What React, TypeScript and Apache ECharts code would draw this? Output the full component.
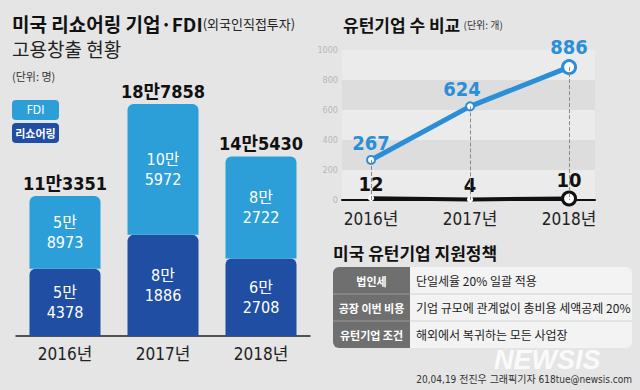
import React, { useEffect, useRef } from "react";
import * as echarts from "echarts";

// ---- data ----
const categories = ["2016년", "2017년", "2018년"];
const reshoring = [54378, 81886, 62708];
const fdi = [58973, 105972, 82722];
const years = [2016, 2017, 2018];
const usCount = [267, 624, 886];
const krCount = [12, 4, 10];
const policyHeads = ["법인세", "공장 이번 비용", "유턴기업 조건"];
const policyTexts = [
  "단일세율 20% 일괄 적용",
  "기업 규모에 관계없이 총비용 세액공제 20%",
  "해외에서 복귀하는 모든 사업장",
];

const NARROW = "'DejaVu Sans Condensed', 'Noto Sans CJK KR', sans-serif";
const KR = "'Noto Sans CJK KR', sans-serif";
const LIGHT = "#2c9fd8";
const DARK = "#1f4ea2";
const USBLUE = "#2a8fd8";

const man = (n: number) => `${Math.floor(n / 10000)}만${String(n % 10000).padStart(4, "0")}`;
const manLines = (n: number) => `${Math.floor(n / 10000)}만\n${String(n % 10000).padStart(4, "0")}`;

export default function App() {
  const ref = useRef<HTMLDivElement>(null);
  useEffect(() => {
    if (!ref.current) return;
    const chart = echarts.init(ref.current, undefined, { renderer: "svg" });
    const totals = reshoring.map((v, i) => v + fdi[i]);

    const tableTop = 267;
    const rowH = 27;
    const tableGraphics: any[] = [
      { type: "rect", shape: { x: 333, y: tableTop, width: 77, height: rowH * 3, r: [6, 0, 0, 6] }, style: { fill: "#6f6f6f" } },
      { type: "rect", shape: { x: 410, y: tableTop, width: 222, height: rowH * 3, r: [0, 6, 6, 0] }, style: { fill: "#f3f3f3" } },
    ];
    [1, 2].forEach((k) => {
      tableGraphics.push({ type: "line", shape: { x1: 333, y1: tableTop + rowH * k, x2: 410, y2: tableTop + rowH * k }, style: { stroke: "#9a9a9a", lineWidth: 1 } });
      tableGraphics.push({ type: "line", shape: { x1: 410, y1: tableTop + rowH * k, x2: 632, y2: tableTop + rowH * k }, style: { stroke: "#d2d2d2", lineWidth: 1 } });
    });
    policyHeads.forEach((h, i) => {
      tableGraphics.push({
        type: "text",
        style: { text: h, x: 371.5, y: tableTop + rowH * i + rowH / 2, textAlign: "center", textVerticalAlign: "middle", fill: "#fff", font: `bold 11px ${KR}` },
      });
      tableGraphics.push({
        type: "text",
        style: { text: policyTexts[i], x: 416, y: tableTop + rowH * i + rowH / 2, textAlign: "left", textVerticalAlign: "middle", fill: "#222", font: `12px ${KR}` },
      });
    });

    chart.setOption({
      animation: false,
      backgroundColor: "#e5e5e5",
      grid: [
        { left: 16, right: 330, top: 89, bottom: 54 },
        { left: 342, right: 45, top: 50, bottom: 190 },
      ],
      xAxis: [
        {
          gridIndex: 0,
          type: "category",
          data: categories,
          axisLine: { lineStyle: { color: "#222", width: 1.5 } },
          axisTick: { show: false },
          axisLabel: { color: "#222", fontSize: 17, fontFamily: NARROW, margin: 9 },
        },
        {
          gridIndex: 1,
          type: "value",
          min: 2015.707,
          max: 2018.262,
          splitLine: { show: false },
          axisLine: { onZero: false, lineStyle: { color: "#111", width: 2 } },
          axisTick: { show: false },
          axisLabel: {
            customValues: years,
            formatter: (v: number) => `${v}년`,
            color: "#222",
            fontSize: 17,
            fontFamily: NARROW,
            margin: 10,
          },
        },
      ],
      yAxis: [
        { gridIndex: 0, type: "value", min: 0, max: 200000, show: false },
        {
          gridIndex: 1,
          type: "value",
          min: 0,
          max: 1000,
          interval: 200,
          axisLine: { show: false },
          axisTick: { show: false },
          splitLine: { show: false },
          splitArea: { show: true, areaStyle: { color: ["#ebebeb", "#dddddd"] } },
          axisLabel: { color: "#b8b8b8", fontSize: 9, fontFamily: NARROW, margin: 4, formatter: (v: number) => String(v) },
        },
      ],
      graphic: [
        {
          type: "text",
          style: {
            x: 12, y: 23, textVerticalAlign: "middle",
            text: "{a|미국 리쇼어링 기업·FDI}{b|(외국인직접투자)}",
            rich: {
              a: { fontSize: 19, fontWeight: "bold", fontFamily: KR, fill: "#111", color: "#111" },
              b: { fontSize: 13, fontFamily: KR, fill: "#222", color: "#222" },
            },
          },
        },
        { type: "text", style: { x: 12, y: 48, textVerticalAlign: "middle", text: "고용창출 현황", fill: "#222", font: `19px ${KR}` } },
        { type: "text", style: { x: 12, y: 76, textVerticalAlign: "middle", text: "(단위: 명)", fill: "#333", font: `11px ${KR}` } },
        { type: "rect", shape: { x: 12, y: 100, width: 47, height: 20, r: 4 }, style: { fill: LIGHT } },
        { type: "text", style: { x: 35.5, y: 110, textAlign: "center", textVerticalAlign: "middle", text: "FDI", fill: "#fff", font: `12px ${NARROW}` } },
        { type: "rect", shape: { x: 12, y: 123, width: 47, height: 20, r: 4 }, style: { fill: DARK } },
        { type: "text", style: { x: 35.5, y: 133, textAlign: "center", textVerticalAlign: "middle", text: "리쇼어링", fill: "#fff", font: `bold 11px ${KR}` } },
        {
          type: "text",
          style: {
            x: 343, y: 24, textVerticalAlign: "middle",
            text: "{a|유턴기업 수 비교} {b|(단위: 개)}",
            rich: {
              a: { fontSize: 17, fontWeight: "bold", fontFamily: KR, fill: "#111", color: "#111" },
              b: { fontSize: 10, fontFamily: KR, fill: "#333", color: "#333" },
            },
          },
        },
        { type: "rect", shape: { x: 493, y: 59, width: 40, height: 17, r: 4 }, style: { fill: USBLUE } },
        { type: "text", style: { x: 513, y: 67.5, textAlign: "center", textVerticalAlign: "middle", text: "미국", fill: "#fff", font: `bold 12px ${KR}` } },
        { type: "rect", shape: { x: 503, y: 173, width: 37, height: 17, r: 4 }, style: { fill: "#111" } },
        { type: "text", style: { x: 521.5, y: 181.5, textAlign: "center", textVerticalAlign: "middle", text: "한국", fill: "#fff", font: `bold 12px ${KR}` } },
        { type: "text", style: { x: 333, y: 252, textVerticalAlign: "middle", text: "미국 유턴기업 지원정책", fill: "#111", font: `bold 17px ${KR}` } },
        ...tableGraphics,
        { type: "text", style: { x: 494, y: 360, textVerticalAlign: "middle", text: "NEWSIS", fill: "rgba(255,255,255,0.85)", font: `italic 900 27px 'Liberation Sans', sans-serif` } },
        { type: "text", style: { x: 632, y: 379, textAlign: "right", textVerticalAlign: "middle", text: "20,04,19 전진우 그래픽기자 618tue@newsis.com", fill: "#333", font: `10px ${NARROW}` } },
      ],
      series: [
        {
          name: "리쇼어링",
          type: "bar",
          stack: "a",
          xAxisIndex: 0,
          yAxisIndex: 0,
          barWidth: 71,
          data: reshoring,
          itemStyle: { color: DARK, borderRadius: [6, 6, 0, 0] },
          label: { show: true, position: "inside", formatter: (p: any) => manLines(p.value), color: "#fff", fontSize: 16, lineHeight: 20, fontFamily: NARROW },
        },
        {
          name: "FDI",
          type: "bar",
          stack: "a",
          xAxisIndex: 0,
          yAxisIndex: 0,
          barWidth: 71,
          data: fdi,
          itemStyle: { color: LIGHT, borderRadius: [6, 6, 0, 0] },
          label: { show: true, position: "inside", formatter: (p: any) => manLines(p.value), color: "#fff", fontSize: 16, lineHeight: 20, fontFamily: NARROW },
        },
        {
          name: "합계",
          type: "bar",
          stack: "a",
          xAxisIndex: 0,
          yAxisIndex: 0,
          barWidth: 71,
          data: totals.map(() => 0),
          silent: true,
          label: { show: true, position: "top", distance: 4, formatter: (p: any) => man(totals[p.dataIndex]), color: "#111", fontSize: 18, fontWeight: "bold", fontFamily: NARROW },
        },
        {
          name: "미국",
          type: "line",
          xAxisIndex: 1,
          yAxisIndex: 1,
          data: years.map((y, i) => ({
            value: [y, usCount[i]],
            symbolSize: i === 2 ? 13 : 8,
            itemStyle: { borderWidth: i === 2 ? 3 : 2 },
            label: i === 1 ? { offset: [-8, 0] } : undefined,
          })),
          symbol: "circle",
          lineStyle: { color: USBLUE, width: 5 },
          itemStyle: { color: "#fff", borderColor: USBLUE, borderWidth: 2 },
          label: { show: true, position: "top", distance: 2, formatter: (p: any) => p.value[1], color: USBLUE, fontSize: 20, fontWeight: "bold", fontFamily: NARROW },
          markLine: {
            silent: true,
            symbol: "none",
            label: { show: false },
            lineStyle: { color: "#8a8a8a", type: "dashed", width: 1 },
            data: years.map((y, i) => [{ coord: [y, usCount[i]] }, { coord: [y, 0] }]),
          },
          z: 3,
        },
        {
          name: "한국",
          type: "line",
          xAxisIndex: 1,
          yAxisIndex: 1,
          data: years.map((y, i) => ({
            value: [y, krCount[i]],
            symbolSize: i === 2 ? 13 : 6,
            itemStyle: { borderWidth: i === 2 ? 3 : 0 },
          })),
          symbol: "circle",
          lineStyle: { color: "#111", width: 4 },
          itemStyle: { color: "#fff", borderColor: "#111" },
          label: { show: true, position: "top", distance: 1, formatter: (p: any) => p.value[1], color: "#111", fontSize: 20, fontWeight: "bold", fontFamily: NARROW },
          z: 4,
        },
      ],
    });
    return () => chart.dispose();
  }, []);
  return <div ref={ref} style={{ position: "fixed", left: 0, top: 0, width: 640, height: 390 }} />;
}
